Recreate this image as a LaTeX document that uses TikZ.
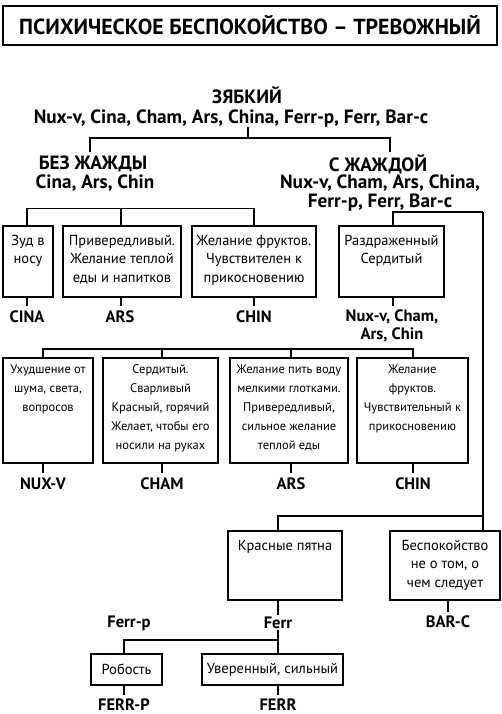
\documentclass[tikz,border=0pt]{standalone}
\usepackage{fontspec}
\setmainfont{PT Sans}
\usetikzlibrary{positioning}
\begin{document}
\begin{tikzpicture}[x=1pt,y=-1pt,
  box/.style={draw=black,line width=1.6pt,inner sep=0pt},
  conn/.style={draw=black,line width=1.4pt},
  btxt/.style={inner sep=0pt,align=center,font=\fontsize{14.5}{18.5}\selectfont},
  stxt/.style={inner sep=0pt,align=center,font=\fontsize{12.5}{19}\selectfont},
  lbl/.style={inner sep=0pt,align=center,font=\bfseries\fontsize{16.5}{18}\selectfont},
  head/.style={inner sep=0pt,align=center,font=\bfseries\fontsize{19.2}{19}\selectfont}]
\useasboundingbox (0,0) rectangle (502,714);
\fill[white] (0,0) rectangle (502,714);
% title
\node[box,line width=2.2pt,minimum width=494pt,minimum height=39pt] (title) at (250,25.5) {};
\node[inner sep=0pt,font=\bfseries\fontsize{21.8}{22}\selectfont] (titlet) at (title.center) {ПСИХИЧЕСКОЕ БЕСПОКОЙСТВО – ТРЕВОЖНЫЙ};
% headings
\node[head] (zb) at (247,95) {ЗЯБКИЙ};
\node[head] (zbl) at (231,118.5) {Nux-v, Cina, Cham, Ars, China, Ferr-p, Ferr, Bar-c};
\node[head] (bez) at (93,164) {БЕЗ ЖАЖДЫ};
\node[head] (bezl) at (95,183.5) {Cina, Ars, Chin};
\node[head] (szh) at (378,164) {С ЖАЖДОЙ};
\node[head] (szhl) at (380,193.5) {Nux-v, Cham, Ars, China,\\Ferr-p, Ferr, Bar-c};
\coordinate (j1) at (248,138);
\coordinate (j1l) at (90,138);
\coordinate (j1r) at (390,138);
\draw[conn] (248,127) -- (j1);
\draw[conn] (90,152) -- (j1l) -- (j1r) -- (390,152);
% row 1 boxes
\node[box,minimum width=50pt,minimum height=71pt] (b1) at (28,261.5) {};
\node[box,minimum width=118pt,minimum height=71pt] (b2) at (122,261.5) {};
\node[box,minimum width=124pt,minimum height=71pt] (b3) at (254,261.5) {};
\node[box,minimum width=105pt,minimum height=71pt] (b4) at (391.5,261.5) {};
\node[btxt,below=9.5pt of b1.north] (b1t) {Зуд в\\носу};
\node[btxt,below=9.5pt of b2.north] (b2t) {Привередливый.\\Желание теплой\\еды и напитков};
\node[btxt,below=9.5pt of b3.north] (b3t) {Желание фруктов.\\Чувствителен к\\прикосновению};
\node[btxt,below=9.5pt of b4.north] (b4t) {Раздраженный\\Сердитый};
\coordinate (j2l) at (27,208.5);
\coordinate (j2r) at (254,208.5);
\draw[conn] (b1.north -| j2l) -- (j2l) -- (j2r) -- (b3.north -| j2r);
\draw[conn] (b2.north -| 121,0) -- (121,208.5);
\coordinate (j3l) at (393,212);
\coordinate (j3r) at (483,212);
\draw[conn] (b4.north -| j3l) -- (j3l) -- (j3r);
% row 1 labels
\node[lbl] (l1) at (27,317) {CINA};
\node[lbl] (l2) at (120,317) {ARS};
\node[lbl] (l3) at (254,317) {CHIN};
\node[lbl] (l4) at (392,326) {Nux-v, Cham,\\Ars, Chin};
\draw[conn] (b1.south -| 27,0) -- (27,306);
\draw[conn] (b2.south -| 121,0) -- (121,306);
\draw[conn] (b3.south -| 254,0) -- (254,306);
\draw[conn] (b4.south -| 393,0) -- (393,306);
% row 2 boxes
\node[box,minimum width=90pt,minimum height=105pt] (b5) at (48,410.5) {};
\node[box,minimum width=115pt,minimum height=105pt] (b6) at (160.5,410.5) {};
\node[box,minimum width=118pt,minimum height=105pt] (b7) at (289,410.5) {};
\node[box,minimum width=111pt,minimum height=105pt] (b8) at (412.5,410.5) {};
\node[stxt,below=7.5pt of b5.north] (b5t) {Ухудшение от\\шума, света,\\вопросов};
\node[stxt,below=7.5pt of b6.north] (b6t) {Сердитый.\\Сварливый\\Красный, горячий\\Желает, чтобы его\\носили на руках};
\node[stxt,below=7.5pt of b7.north] (b7t) {Желание пить воду\\мелкими глотками.\\Привередливый,\\сильное желание\\теплой еды};
\node[stxt,below=7.5pt of b8.north] (b8t) {Желание\\фруктов.\\Чувствительный к\\прикосновению};
\coordinate (j4l) at (43,349);
\coordinate (j4r) at (413,349);
\draw[conn] (b5.north -| j4l) -- (j4l) -- (j4r) -- (b8.north -| j4r);
\draw[conn] (b6.north -| 162,0) -- (162,349);
\draw[conn] (b7.north -| 291,0) -- (291,349);
\node[lbl] (l5) at (43,484) {NUX-V};
\node[lbl] (l6) at (162,484) {CHAM};
\node[lbl] (l7) at (291,484) {ARS};
\node[lbl] (l8) at (413,484) {CHIN};
\draw[conn] (b5.south -| 43,0) -- (43,473);
\draw[conn] (b6.south -| 162,0) -- (162,473);
\draw[conn] (b7.south -| 291,0) -- (291,473);
\draw[conn] (b8.south -| 413,0) -- (413,473);
% row 3
\node[box,minimum width=114pt,minimum height=69pt] (kp) at (285,565.5) {};
\node[box,minimum width=110pt,minimum height=69pt] (bes) at (445,565.5) {};
\node[btxt,below=9.5pt of kp.north] (kpt) {Красные пятна};
\node[btxt,below=9.5pt of bes.north] (best) {Беспокойство\\не о том, о\\чем следует};
\coordinate (j5l) at (278,516);
\coordinate (j5r) at (483,516);
\draw[conn] (j3r) -- (j5r) -- (bes.north -| j5r);
\draw[conn] (j5r) -- (j5l) -- (kp.north -| j5l);
\node[lbl] (lferr) at (278,623) {Ferr};
\node[lbl] (lferrp) at (129,623) {Ferr-p};
\node[lbl] (lbar) at (448,622) {BAR-C};
\draw[conn] (kp.south -| 278,0) -- (278,615);
\draw[conn] (bes.south -| 448,0) -- (448,612);
% row 4
\node[box,minimum width=71pt,minimum height=31pt] (rob) at (126.5,669.5) {};
\node[box,minimum width=141pt,minimum height=31pt] (uv) at (272.5,669.5) {};
\node[btxt] (robt) at (rob.center) {Робость};
\node[btxt] (uvt) at (uv.center) {Уверенный, сильный};
\coordinate (j6l) at (124,640);
\coordinate (j6r) at (278,640);
\draw[conn] (278,630) -- (j6r) -- (uv.north -| j6r);
\draw[conn] (j6r) -- (j6l) -- (rob.north -| j6l);
\node[lbl] (l9) at (124,705) {FERR-P};
\node[lbl] (l10) at (278,705) {FERR};
\draw[conn] (rob.south -| 124,0) -- (124,695);
\draw[conn] (uv.south -| 278,0) -- (278,695);
\end{tikzpicture}
\end{document}
